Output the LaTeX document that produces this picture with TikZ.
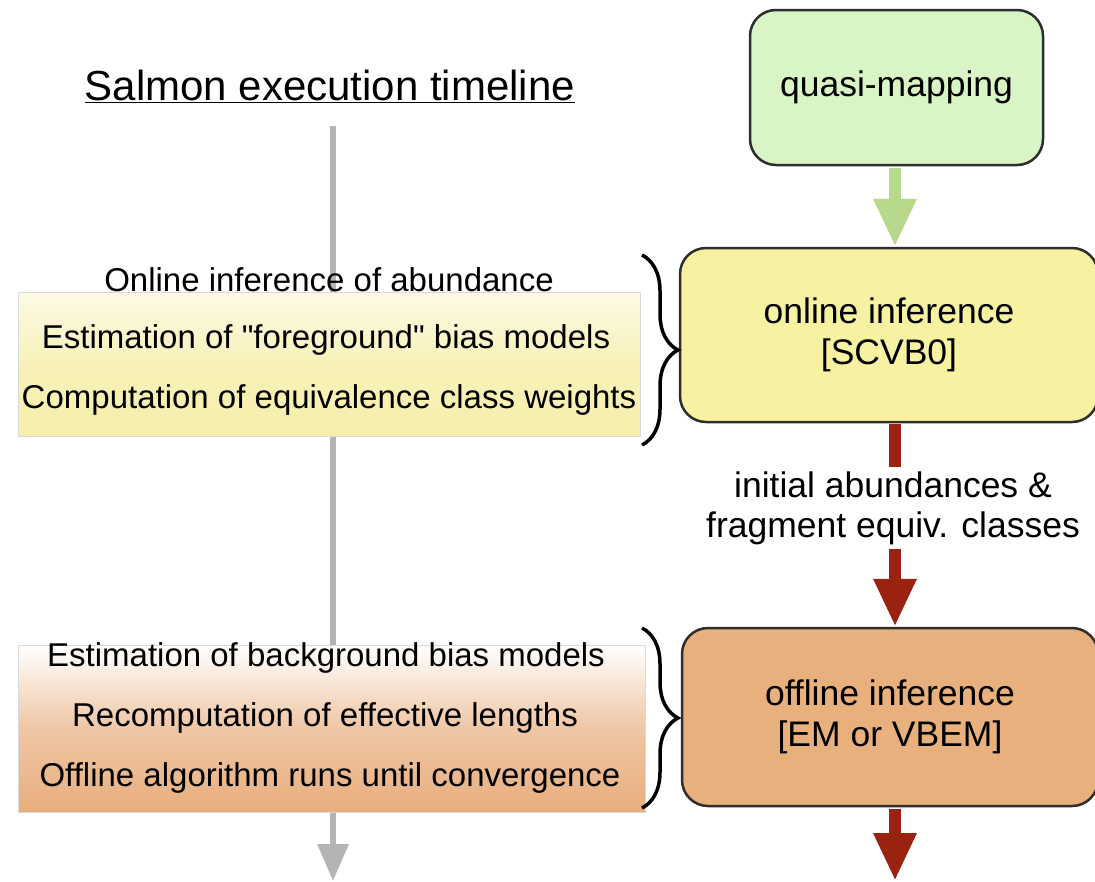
\documentclass[tikz,border=0pt]{standalone}
\usepackage{fontspec}
\setmainfont{Liberation Sans}
\usetikzlibrary{arrows.meta,decorations.pathreplacing}
\definecolor{gline}{HTML}{B4B4B4}
\definecolor{greenfill}{HTML}{D9F5C6}
\definecolor{greenarrow}{HTML}{B8D88C}
\definecolor{yellowfill}{HTML}{F7F2A2}
\definecolor{yellowpanel}{HTML}{F6EFAC}
\definecolor{orangefill}{HTML}{E8B07C}
\definecolor{orangepanel}{HTML}{E8AE7E}
\definecolor{redarrow}{HTML}{9A2210}
\definecolor{boxborder}{HTML}{2E2E2E}
\tikzset{
  procbox/.style={draw=boxborder, line width=2.5pt, rounded corners=26pt, align=center,
    font=\fontsize{35.5}{41}\selectfont, inner sep=0pt},
  itemtext/.style={font=\fontsize{33}{38}\selectfont, inner sep=2pt},
  panel/.style={draw=black!15, line width=1pt, inner sep=0pt},
  bigarrow/.style={line width=12pt, -{Triangle[length=48pt,width=40pt]}},
  timeline/.style={gline, line width=6pt, -{Triangle[length=37pt,width=30pt]}},
  bracestyle/.style={decorate, decoration={brace, amplitude=36pt}, line width=3.5pt, black},
  flowlabel/.style={fill=white, align=center, font=\fontsize{35.5}{40}\selectfont, inner sep=4pt}
}
\begin{document}
\begin{tikzpicture}[x=1pt,y=-1pt]
\clip (0,0) rectangle (1095,881);
\fill[white] (0,0) rectangle (1095,881);

% title
\node (title) at (330,86) {\fontsize{42}{48}\selectfont\underline{Salmon execution timeline}};
\coordinate (tlend) at (333,881);
\draw[timeline] (title.south -| tlend) ++(0,20) -- (tlend);

% panels
\node[panel, minimum width=622pt, minimum height=144pt, top color=yellowpanel!30, bottom color=yellowpanel, middle color=yellowpanel!85] (panel1) at (329,364) {};
\node[panel, minimum width=627pt, minimum height=167pt, top color=white, bottom color=orangepanel, middle color=orangepanel!70] (panel2) at (331.5,728.5) {};

% panel texts
\node[itemtext] (on1) at (329,280) {Online inference of abundance};
\node[itemtext] (on2) at (326,340) {Estimation of \textquotedbl foreground\textquotedbl\ bias models};
\node[itemtext] (on3) at (329,400) {Computation of equivalence class weights};
\node[itemtext] (off1) at (326,658) {Estimation of background bias models};
\node[itemtext] (off2) at (325,718) {Recomputation of effective lengths};
\node[itemtext] (off3) at (330,778) {Offline algorithm runs until convergence};

% right column boxes
\node[procbox, fill=greenfill, minimum width=293pt, minimum height=155pt] (qm) at (896.5,87.5) {quasi-mapping};
\node[procbox, fill=yellowfill, minimum width=418pt, minimum height=174pt] (online) at (889,335) {online inference\\{}[SCVB0]};
\node[procbox, fill=orangefill, minimum width=416pt, minimum height=178pt] (offline) at (890,717) {offline inference\\{}[EM or VBEM]};

% arrows
\coordinate (ax) at (895,0);
\draw[bigarrow, greenarrow] (qm.south -| ax) ++(0,2) -- (online.north -| ax);
\draw[bigarrow, redarrow] (online.south -| ax) ++(0,1) -- (offline.north -| ax);
\node[flowlabel] (lbl) at (893,508) {initial abundances \&\\fragment equiv. classes};
\coordinate (rend) at (895,881);
\draw[bigarrow, redarrow] (offline.south -| ax) ++(0,2) -- (rend);

% braces
\coordinate (b1t) at (642,255);
\coordinate (b1b) at (642,445);
\coordinate (b2t) at (642,628);
\coordinate (b2b) at (642,808);
\draw[bracestyle] (b1t) -- (b1b);
\draw[bracestyle] (b2t) -- (b2b);
\end{tikzpicture}
\end{document}
